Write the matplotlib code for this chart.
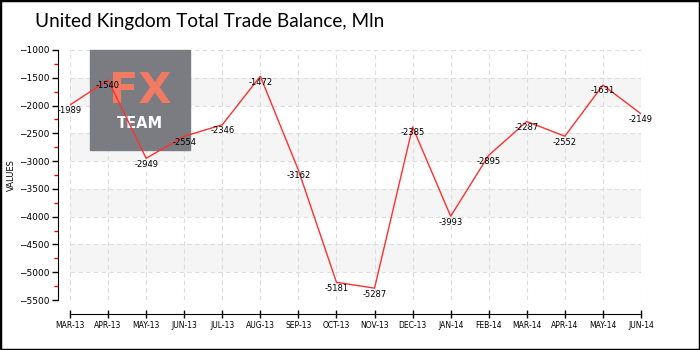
import matplotlib
matplotlib.use("Agg")
import matplotlib.pyplot as plt
from matplotlib.patches import Rectangle
from matplotlib.ticker import MultipleLocator

# ---- datos ----
months = ["MAR-13", "APR-13", "MAY-13", "JUN-13", "JUL-13", "AUG-13", "SEP-13", "OCT-13",
          "NOV-13", "DEC-13", "JAN-14", "FEB-14", "MAR-14", "APR-14", "MAY-14", "JUN-14"]
balance = [-1989, -1540, -2949, -2554, -2346, -1472, -3162, -5181,
           -5287, -2385, -3993, -2895, -2287, -2552, -1631, -2149]
y_min, y_max = -5500, -1000

# ---- figura ----
fig = plt.figure(figsize=(7, 3.5), dpi=100)
ax = fig.add_axes([70/700, 50/350, 571/700, 250/350])

x = list(range(len(months)))

# bandas grises alternas
for lo in range(y_min, y_max, 500):
    if ((lo - y_min) // 500) % 2 == 1:
        ax.axhspan(lo, lo + 500, color="#f5f5f5", zorder=0, lw=0)

ax.grid(True, linestyle=(0, (4, 3)), color="#dddddd", linewidth=0.8, zorder=1)

# logo
ax.add_patch(Rectangle((20/571, 0.6), 100/571, 0.4, transform=ax.transAxes,
                       color="#7b7b82", zorder=2, clip_on=False))
ax.text(70/571, 0.835, "FX", transform=ax.transAxes, ha="center", va="center",
        fontsize=31, color="#f07a62", fontweight="bold", zorder=3)
ax.text(70/571, 0.705, "TEAM", transform=ax.transAxes, ha="center", va="center",
        fontsize=10.5, color="white", fontweight="bold", zorder=3)

ax.plot(x, balance, color="#ff3030", linewidth=1, zorder=4)
for xi, v in zip(x, balance):
    ax.annotate(str(v), (xi, v), xytext=(0, -1), textcoords="offset points",
                ha="center", va="top", fontsize=6, zorder=5)

ax.set_xlim(0, len(months) - 1)
ax.set_ylim(y_min, y_max)
ax.set_xticks(x)
ax.set_xticklabels(months)
ax.yaxis.set_major_locator(MultipleLocator(500))
ax.yaxis.set_minor_locator(MultipleLocator(250))
ax.tick_params(axis="y", which="major", labelsize=6.5, length=4, width=1, pad=2)
ax.tick_params(axis="y", which="minor", length=3, width=1, color="#ff0000")
ax.tick_params(axis="x", which="major", direction="inout", length=6, width=1, pad=2,
               labelsize=5.5)
ax.set_ylabel("VALUES", fontsize=6, labelpad=2)

for s in ["top", "right"]:
    ax.spines[s].set_visible(False)
ax.spines["left"].set_position(("outward", 9))
ax.spines["bottom"].set_position(("outward", 10))

fig.text(35/700, 1 - 22/350, "United Kingdom Total Trade Balance, Mln",
         fontsize=13.7, va="center", ha="left", family="Lato", color="black")

fig.patches.append(Rectangle((0, 0), 1, 1, transform=fig.transFigure, fill=False,
                             edgecolor="black", linewidth=2.5))

fig.savefig("out.png", dpi=100)
